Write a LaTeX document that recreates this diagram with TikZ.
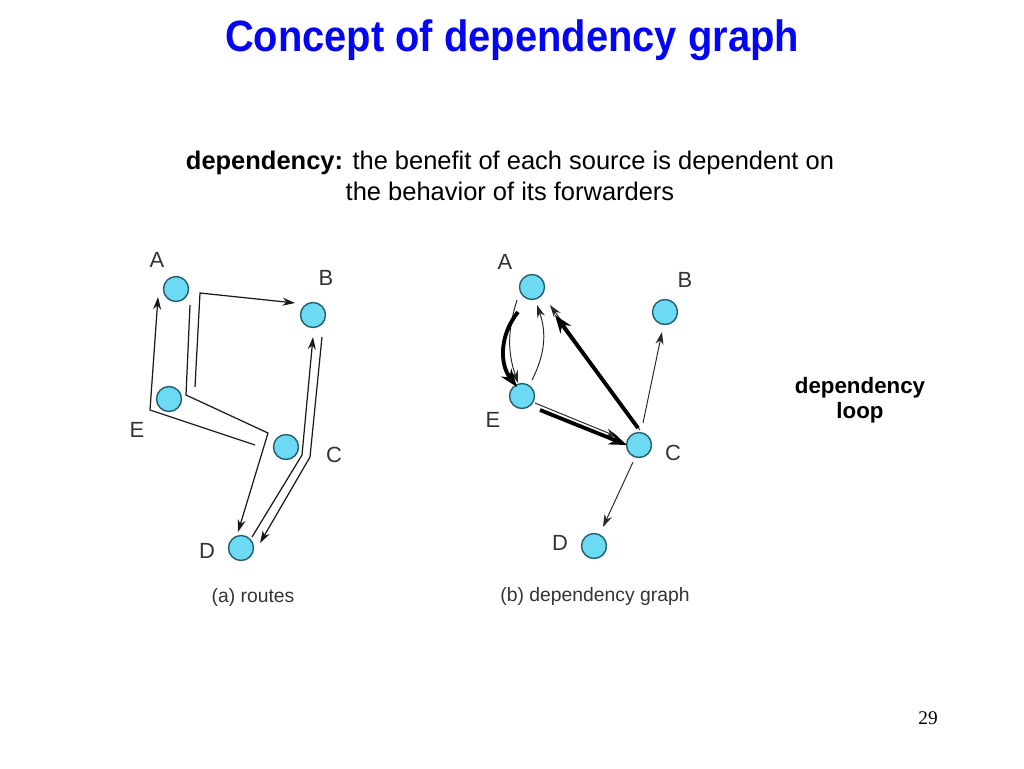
\documentclass[tikz,border=0pt]{standalone}
\usepackage{fontspec}
\setmainfont{Liberation Sans}
\newfontfamily\pagenofont{Liberation Serif}
\usetikzlibrary{arrows.meta,positioning}
\definecolor{titleblue}{HTML}{0505F5}
\definecolor{nodecyan}{HTML}{6BDAF2}
\definecolor{nodeedge}{HTML}{245E6C}
\definecolor{labelgray}{HTML}{333333}

\begin{document}
\begin{tikzpicture}[x=0.02cm,y=-0.02cm,
    station/.style={circle,draw=nodeedge,fill=nodecyan,line width=0.8pt,minimum size=0.5cm,inner sep=0pt},
    tag/.style={text=labelgray,font=\fontsize{12.5}{14}\selectfont},
    caption/.style={text=labelgray,font=\fontsize{11}{13}\selectfont},
    route/.style={-{Stealth[length=2.5mm,width=1.6mm]},line width=0.7pt,draw=black!90},
    thinedge/.style={-{Stealth[length=2.5mm,width=1.6mm]},line width=0.55pt,draw=black!85},
    loopedge/.style={-{Stealth[length=3.6mm,width=2.6mm]},line width=2.2pt,draw=black}
  ]
    \useasboundingbox (0,0) rectangle (1024,768);

    \node[text=titleblue,font=\fontsize{22.7}{26}\selectfont\bfseries] (title) at (512,40)
      {\scalebox{1}[1.1]{Concept of dependency graph}};
    \node[align=center,font=\fontsize{14.5}{17.6}\selectfont] (def) at (510,176)
      {\textbf{dependency:} the benefit of each source is dependent on\\the behavior of its forwarders};

    % (a) routes
    \node[station] (aA) at (176,289) {};
    \node[station] (aB) at (313,315) {};
    \node[station] (aE) at (169,399) {};
    \node[station] (aC) at (286,447) {};
    \node[station] (aD) at (241,548) {};
    \node[tag] (aAl) at (157,260) {A};
    \node[tag] (aBl) at (326,278) {B};
    \node[tag] (aEl) at (137,430) {E};
    \node[tag] (aCl) at (334,455) {C};
    \node[tag] (aDl) at (207,551) {D};
    \node[caption] (acap) at (253,597) {(a) routes};

    \coordinate (r1s) at (255,445); \coordinate (r1b) at (150,410); \coordinate (r1e) at (158,297);
    \coordinate (r2s) at (190,305); \coordinate (r2b) at (186,395); \coordinate (r2c) at (268,433); \coordinate (r2e) at (238,532);
    \coordinate (r3s) at (195,387); \coordinate (r3b) at (200,293); \coordinate (r3e) at (295,303);
    \coordinate (r4s) at (322,337); \coordinate (r4b) at (310,457); \coordinate (r4e) at (260,543);
    \coordinate (r5s) at (252,537); \coordinate (r5b) at (302,455); \coordinate (r5e) at (313,337);

    \draw[route] (r1s) -- (r1b) -- (r1e);
    \draw[route] (r2s) -- (r2b) -- (r2c) -- (r2e);
    \draw[route] (r3s) -- (r3b) -- (r3e);
    \draw[route] (r4s) -- (r4b) -- (r4e);
    \draw[route] (r5s) -- (r5b) -- (r5e);

    % (b) dependency graph
    \node[station] (bA) at (532,287) {};
    \node[station] (bB) at (665,312) {};
    \node[station] (bE) at (522,396) {};
    \node[station] (bC) at (639,445) {};
    \node[station] (bD) at (594,546) {};
    \node[tag] (bAl) at (505,262) {A};
    \node[tag] (bBl) at (685,280) {B};
    \node[tag] (bEl) at (493,420) {E};
    \node[tag] (bCl) at (673,453) {C};
    \node[tag] (bDl) at (560,543) {D};
    \node[caption] (bcap) at (595,596) {(b) dependency graph};

    \draw[thinedge] ([shift={(-15,13)}]bA.center) to[bend right=18] ([shift={(-4,-13)}]bE.center);
    \draw[thinedge] ([shift={(10,-16)}]bE.center) to[bend right=23] ([shift={(5,18)}]bA.center);
    \draw[thinedge] ([shift={(13,7)}]bE.center) -- ([shift={(-21,-8)}]bC.center);
    \draw[thinedge] ([shift={(1,-15)}]bC.center) -- ([shift={(18,18)}]bA.center);
    \draw[thinedge] ([shift={(4,-22)}]bC.center) -- ([shift={(-3,20)}]bB.center);
    \draw[thinedge] ([shift={(-6,17)}]bC.center) -- ([shift={(9,-19)}]bD.center);
    \draw[loopedge] ([shift={(-14,25)}]bA.center) to[bend right=38] ([shift={(-5,-9)}]bE.center);
    \draw[loopedge] ([shift={(18,14)}]bE.center) -- ([shift={(-12,0)}]bC.center);
    \draw[loopedge] ([shift={(-1,-17)}]bC.center) -- ([shift={(23,28)}]bA.center);

    \node[align=center,font=\fontsize{12.7}{14.2}\selectfont\bfseries] (loop) at (860,400) {dependency\\loop};
    \node[font=\pagenofont\fontsize{11}{13}\selectfont] (pageno) at (928,718) {29};
  \end{tikzpicture}
\end{document}
